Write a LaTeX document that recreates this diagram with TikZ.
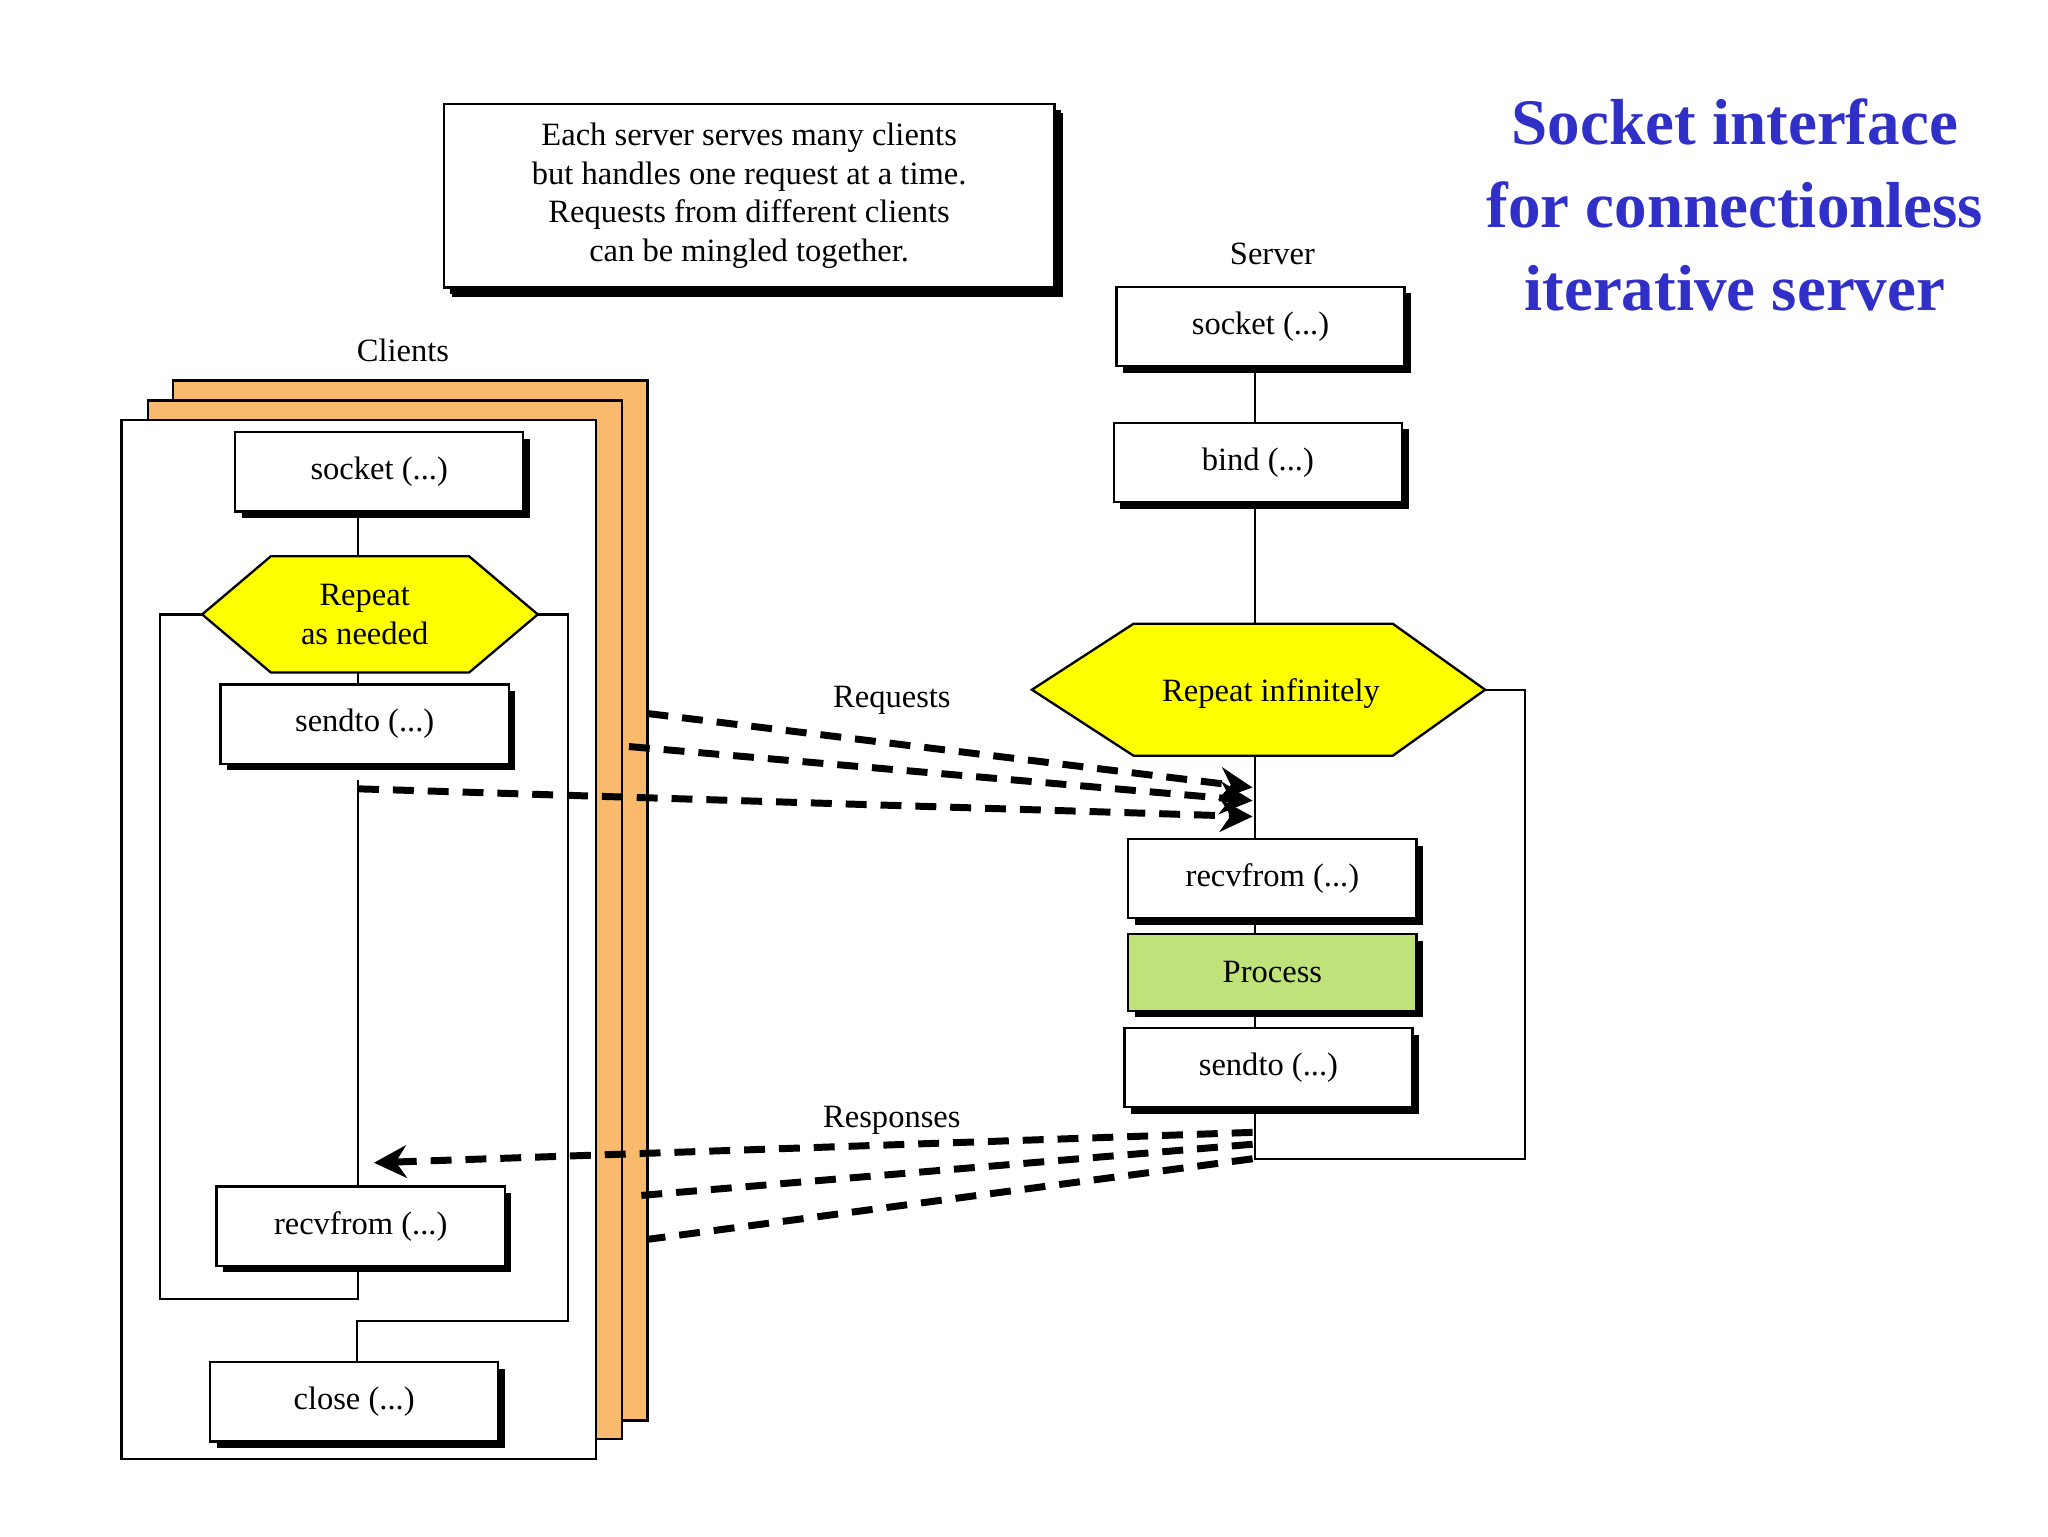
\documentclass[tikz,border=0pt]{standalone}
\usepackage{fontspec}
\setmainfont{Liberation Serif}
\usetikzlibrary{shadows,arrows.meta}
\definecolor{orng}{RGB}{250,186,110}
\definecolor{hexy}{RGB}{255,255,0}
\definecolor{procg}{RGB}{192,226,122}
\definecolor{ttl}{RGB}{48,48,200}
\begin{document}
\begin{tikzpicture}[x=0.01cm,y=-0.01cm,
  font=\fontsize{7}{8.3}\selectfont,
  box/.style={draw,fill=white,line width=0.5pt,minimum width=2.18cm,minimum height=0.6cm,
    drop shadow={shadow xshift=0.05cm,shadow yshift=-0.05cm,fill=black,opacity=1}},
  hex/.style={draw,fill=hexy,line width=0.5pt},
  msg/.style={line width=1.5pt,dash pattern=on 4.5pt off 3pt},
  tip/.style={-{Stealth[length=7pt,width=7pt]}},
  ln/.style={line width=0.5pt}]
\useasboundingbox (0,0) rectangle (1550,1162.5);

% title and note
\node[text=ttl,font=\fontsize{14}{17.9}\selectfont\bfseries,align=center] (title) at (1313,155)
  {Socket interface\\for connectionless\\iterative server};
\node[box,minimum width=4.62cm,minimum height=1.39cm,align=center,
  drop shadow={shadow xshift=0.06cm,shadow yshift=-0.07cm,fill=black,opacity=1}] (note) at (567,148)
  {Each server serves many clients\\but handles one request at a time.\\Requests from different clients\\can be mingled together.};

% clients stack
\draw[ln,fill=orng] (131,288) rectangle (490,1075);
\draw[ln,fill=orng] (112,303) rectangle (471,1089);
\draw[ln,fill=white] (92,318) rectangle (451,1104);
\node (clients) at (305,265) {Clients};

\node[box] (cs) at (287,357) {socket (...)};
\draw[hex] (153,465) -- (205,421) -- (355,421) -- (407,465) -- (355,509) -- (205,509) -- cycle;
\node[align=center] (crep) at (276,465) {Repeat\\as needed};
\node[box] (csend) at (276,548) {sendto (...)};
\node[box] (crecv) at (273,928) {recvfrom (...)};
\node[box] (close) at (268,1061) {close (...)};
\coordinate (cx) at (271,0);
\draw[ln] (cs.south -| cx) -- (271,421);
\draw[ln] (271,509) -- (csend.north -| cx);
\draw[ln] (271,590) -- (crecv.north -| cx);
\draw[ln] (153,465) -- (121,465) -- (121,983) -- (271,983) -- (crecv.south -| cx);
\draw[ln] (407,465) -- (430,465) -- (430,1000) -- (270,1000) -- (close.north -| 270,0);

% server
\node (server) at (963,192) {Server};
\node[box] (ss) at (954,247) {socket (...)};
\node[box] (bind) at (952,350) {bind (...)};
\draw[hex] (781,522) -- (858,472) -- (1054,472) -- (1124,522) -- (1054,572) -- (858,572) -- cycle;
\node (srep) at (962,525) {Repeat infinitely};
\node[box] (srecv) at (963,665) {recvfrom (...)};
\node[box,fill=procg,minimum height=0.58cm] (proc) at (963,736) {Process};
\node[box] (ssend) at (960,808) {sendto (...)};
\coordinate (sx) at (950,0);
\draw[ln] (ss.south -| sx) -- (bind.north -| sx);
\draw[ln] (bind.south -| sx) -- (950,472);
\draw[ln] (950,572) -- (srecv.north -| sx);
\draw[ln] (srecv.south -| sx) -- (proc.north -| sx);
\draw[ln] (proc.south -| sx) -- (ssend.north -| sx);
\draw[ln] (ssend.south -| sx) -- (950,877) -- (1154,877) -- (1154,522) -- (1124,522);

% requests
\coordinate (r1) at (948,596);
\coordinate (r2) at (948,606);
\coordinate (r3) at (948,618);
\draw[msg,tip] (490,540) -- (r1);
\draw[msg,tip] (476,565) -- (r2);
\draw[msg,tip] (271,597) -- (r3);
\node (req) at (675,530) {Requests};

% responses
\coordinate (p1) at (948,857);
\coordinate (p2) at (948,866);
\coordinate (p3) at (948,877);
\coordinate (q1) at (283,880);
\draw[msg,tip] (p1) -- (q1);
\draw[msg] (p2) -- (482,905);
\draw[msg] (p3) -- (490,938);
\node (resp) at (675,848) {Responses};
\end{tikzpicture}
\end{document}
